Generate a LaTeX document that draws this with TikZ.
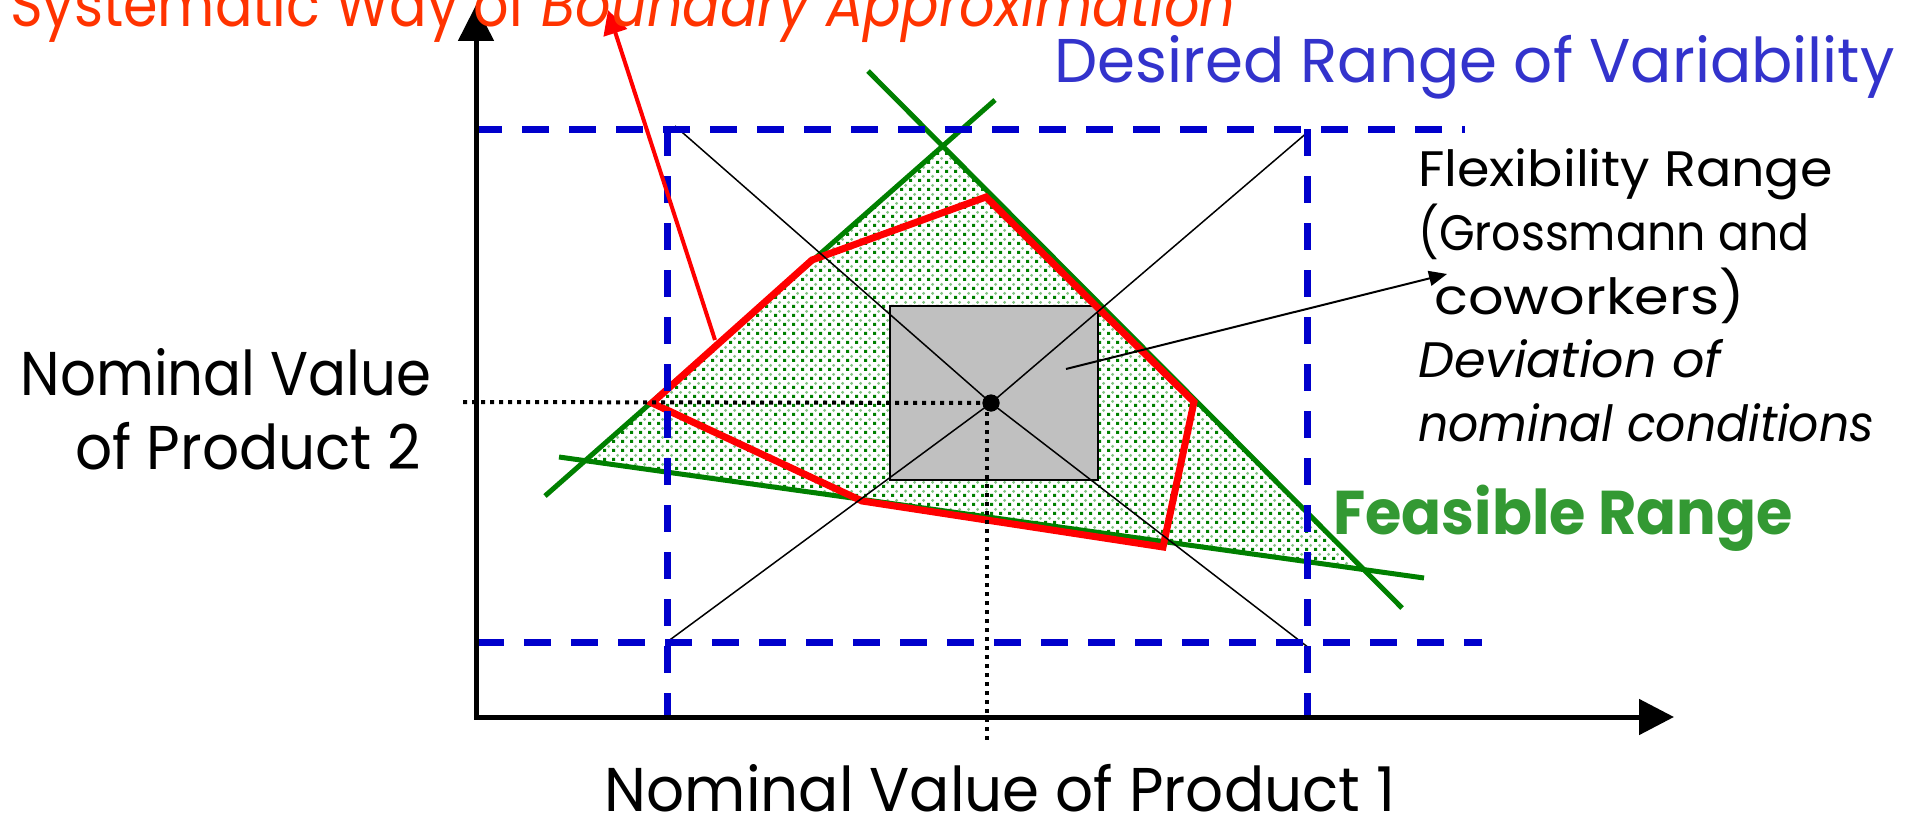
\documentclass[tikz,border=0pt]{standalone}
\usepackage{fontspec}
\setmainfont{Poppins}
\usetikzlibrary{arrows.meta,patterns}
\definecolor{lgreen}{RGB}{0,128,0}
\definecolor{patdark}{RGB}{0,128,0}
\definecolor{patlight}{RGB}{130,195,130}
\definecolor{dblue}{RGB}{0,0,204}
\definecolor{tblue}{RGB}{51,51,204}
\definecolor{torange}{RGB}{255,51,0}
\definecolor{tgreen}{RGB}{51,153,51}
\definecolor{boxgray}{RGB}{192,192,192}
\pgfdeclarepatterninherentlycolored{greendots}{\pgfpointorigin}{\pgfpoint{9bp}{9bp}}{\pgfpoint{9bp}{9bp}}{%
  \pgfsetfillcolor{patdark}%
  \pgfpathrectangle{\pgfpoint{0bp}{0bp}}{\pgfpoint{3.5bp}{3.5bp}}%
  \pgfusepath{fill}%
  \pgfsetfillcolor{patlight}%
  \pgfpathcircle{\pgfpoint{6.25bp}{6.25bp}}{1.7bp}%
  \pgfusepath{fill}%
}
\newcommand{\hs}[2]{\scalebox{#1}[1]{#2}}
\begin{document}
\begin{tikzpicture}[x=1bp,y=-1bp,
  bigtext/.style={inner sep=0pt,font=\fontsize{62}{70}\selectfont},
  smalltext/.style={inner sep=0pt,anchor=base west,font=\fontsize{50}{58}\selectfont},
  axisline/.style={line width=5bp,line join=miter,{Triangle[length=36bp,width=35bp]}-{Triangle[length=35bp,width=35bp]}},
  bluedash/.style={dblue,line width=7bp,dash pattern=on 27bp off 20bp},
  greenline/.style={lgreen,line width=5bp},
  redpoly/.style={red,line width=7bp,line join=miter},
  diag/.style={black,line width=1.5bp},
  dotline/.style={black,line width=4bp,dash pattern=on 4bp off 5bp},
]
\useasboundingbox (0,0) rectangle (1917,821);

% coordinates
\coordinate (ytop) at (476,5);
\coordinate (orig) at (476,717);
\coordinate (xend) at (1674,717);
\coordinate (bTL) at (667,129);
\coordinate (bTR) at (1307,129);
\coordinate (l1a) at (545,496);
\coordinate (l1b) at (995,100);
\coordinate (l2a) at (868,71);
\coordinate (l2b) at (1402,608);
\coordinate (l3a) at (559,457);
\coordinate (l3b) at (1424,578);
\coordinate (tA) at (intersection of l1a--l1b and l2a--l2b);
\coordinate (tB) at (intersection of l1a--l1b and l3a--l3b);
\coordinate (tC) at (intersection of l2a--l2b and l3a--l3b);

% feasible region
\path[pattern=greendots] (tA) -- (tC) -- (tB) -- cycle;

% gray flexibility box
\node[draw=black,line width=1.5bp,fill=boxgray,minimum width=208bp,minimum height=174bp,inner sep=0pt] (flexbox) at (994,393) {};

% green constraint lines
\draw[greenline] (l1a) -- (l1b);
\draw[greenline] (l2a) -- (l2b);
\draw[greenline] (l3a) -- (l3b);

% red polygon
\draw[redpoly] (652,403) -- (812,260) -- (986,197) -- (1098,308) -- (1194,402) -- (1163,547) -- (862,501) -- cycle;

% nominal point
\node[circle,fill=black,minimum size=17bp,inner sep=0pt] (nom) at (991,403) {};

% spokes from nominal point to corners
\coordinate (cTL) at (675,126);
\coordinate (cBR) at (1309,648);
\coordinate (cBL) at (667,642);
\coordinate (cTR) at (1309,131);
\draw[diag] (nom.center) -- (cTL);
\draw[diag] (nom.center) -- (cBR);
\draw[diag] (nom.center) -- (cBL);
\draw[diag] (nom.center) -- (cTR);

% blue dashed range
\draw[bluedash] (475,129) -- (1465,129);
\draw[bluedash] (477,642) -- (1482,642);
\draw[bluedash] (bTL) -- (667,717);
\draw[bluedash] (bTR) -- (1307,717);

% dotted guide lines
\coordinate (nomL) at (463,402);
\coordinate (nomB) at (987,740);
\draw[dotline] (nomL) -- (nom.center);
\draw[dotline] (987,403) -- (nomB);
\node[circle,fill=black,minimum size=17bp,inner sep=0pt] (nomdot) at (nom.center) {};

% axes
\draw[axisline] (ytop) -- (orig) -- (xend);

% red arrow
\coordinate (redstart) at (715,340);
\coordinate (redtip) at (608,10);
\draw[red,line width=4bp,-{Triangle[length=24bp,width=24bp]}] (redstart) -- (redtip);

% black arrow
\coordinate (flexstart) at (1066,369);
\coordinate (flextip) at (1447,274);
\draw[black,line width=2bp,-{Triangle[length=18bp,width=15bp]}] (flexstart) -- (flextip);

% texts
\node[bigtext,anchor=base west,text=torange] (sys) at (10,27) {\hs{0.9}{Systematic Way of \textit{Boundary Approximation}}};
\node[bigtext,anchor=base west,text=tblue] (des) at (1054,83) {\hs{0.99}{Desired Range of Variability}};
\node[bigtext,anchor=base] (nv2a) at (226,395) {\hs{0.91}{Nominal Value}};
\node[bigtext,anchor=base] (nv2b) at (248,469) {\hs{0.94}{of Product 2}};
\node[bigtext,anchor=base,text depth=0pt] (nv1) at (1000,811) {\hs{0.964}{Nominal Value of Product 1}};
\node[bigtext,anchor=base west,text=tgreen,font=\fontsize{62}{70}\selectfont\bfseries] (feas) at (1333,534) {\hs{0.954}{Feasible Range}};
\node[smalltext] (fl1) at (1418,186) {\hs{1.05}{Flexibility Range}};
\node[smalltext] (fl2) at (1418,250) {\hs{0.92}{(Grossmann and}};
\node[smalltext] (fl3) at (1434,314) {\hs{1.12}{coworkers)}};
\node[smalltext,font=\fontsize{50}{58}\selectfont\itshape] (fl4) at (1418,377) {\hs{1.02}{Deviation of}};
\node[smalltext,font=\fontsize{50}{58}\selectfont\itshape] (fl5) at (1418,441) {\hs{0.95}{nominal conditions}};
\end{tikzpicture}
\end{document}
